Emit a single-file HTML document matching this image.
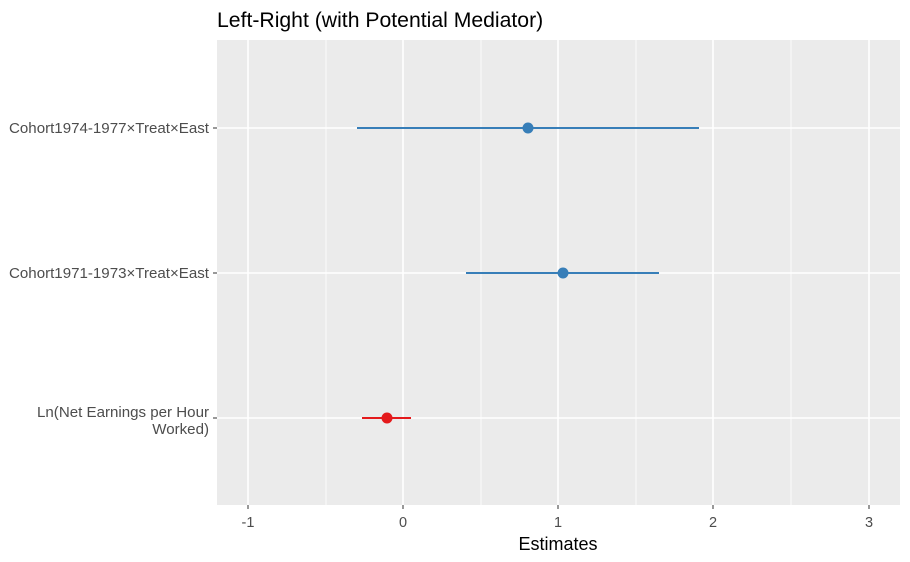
<!DOCTYPE html>
<html><head><meta charset="utf-8"><style>body{margin:0;background:#fff}svg{display:block}</style></head><body>
<svg width="910" height="562" xmlns="http://www.w3.org/2000/svg" font-family="Liberation Sans, Arial, sans-serif">
<rect x="0" y="0" width="910" height="562" fill="#fff"/>
<text x="217" y="27" font-size="21.2" fill="#000">Left-Right (with Potential Mediator)</text>
<rect x="217" y="40" width="683" height="465" fill="#ebebeb"/>
<g stroke="#fff" stroke-width="0.8">
<line x1="326" y1="40" x2="326" y2="505"/><line x1="481" y1="40" x2="481" y2="505"/>
<line x1="636" y1="40" x2="636" y2="505"/><line x1="791" y1="40" x2="791" y2="505"/>
</g>
<g stroke="#fff" stroke-width="1.6">
<line x1="248" y1="40" x2="248" y2="505"/><line x1="403" y1="40" x2="403" y2="505"/>
<line x1="558" y1="40" x2="558" y2="505"/><line x1="713" y1="40" x2="713" y2="505"/>
<line x1="869" y1="40" x2="869" y2="505"/>
<line x1="217" y1="128" x2="900" y2="128"/><line x1="217" y1="273" x2="900" y2="273"/>
<line x1="217" y1="418" x2="900" y2="418"/>
</g>
<g stroke="#333" stroke-width="1">
<line x1="213" y1="128" x2="217" y2="128"/><line x1="213" y1="273" x2="217" y2="273"/><line x1="213" y1="418" x2="217" y2="418"/>
<line x1="248" y1="505" x2="248" y2="509"/><line x1="403" y1="505" x2="403" y2="509"/><line x1="558" y1="505" x2="558" y2="509"/><line x1="713" y1="505" x2="713" y2="509"/><line x1="869" y1="505" x2="869" y2="509"/>
</g>
<g font-size="15.1" fill="#4d4d4d" text-anchor="end">
<text x="209" y="133">Cohort1974-1977×Treat×East</text>
<text x="209" y="278">Cohort1971-1973×Treat×East</text>
<text x="209" y="417">Ln(Net Earnings per Hour</text>
<text x="209" y="434">Worked)</text>
</g>
<g font-size="14.5" fill="#4d4d4d" text-anchor="middle">
<text x="248" y="527">-1</text><text x="403" y="527">0</text><text x="558" y="527">1</text><text x="713" y="527">2</text><text x="869" y="527">3</text>
</g>
<text x="558" y="550" font-size="18" text-anchor="middle" fill="#000">Estimates</text>
<line x1="357" y1="128" x2="699" y2="128" stroke="#377eb8" stroke-width="2"/>
<circle cx="528" cy="128" r="5.5" fill="#377eb8"/>
<line x1="466" y1="273" x2="659" y2="273" stroke="#377eb8" stroke-width="2"/>
<circle cx="563" cy="273" r="5.5" fill="#377eb8"/>
<line x1="362" y1="418" x2="411" y2="418" stroke="#e41a1c" stroke-width="2"/>
<circle cx="387" cy="418" r="5.5" fill="#e41a1c"/>
</svg>
</body></html>
